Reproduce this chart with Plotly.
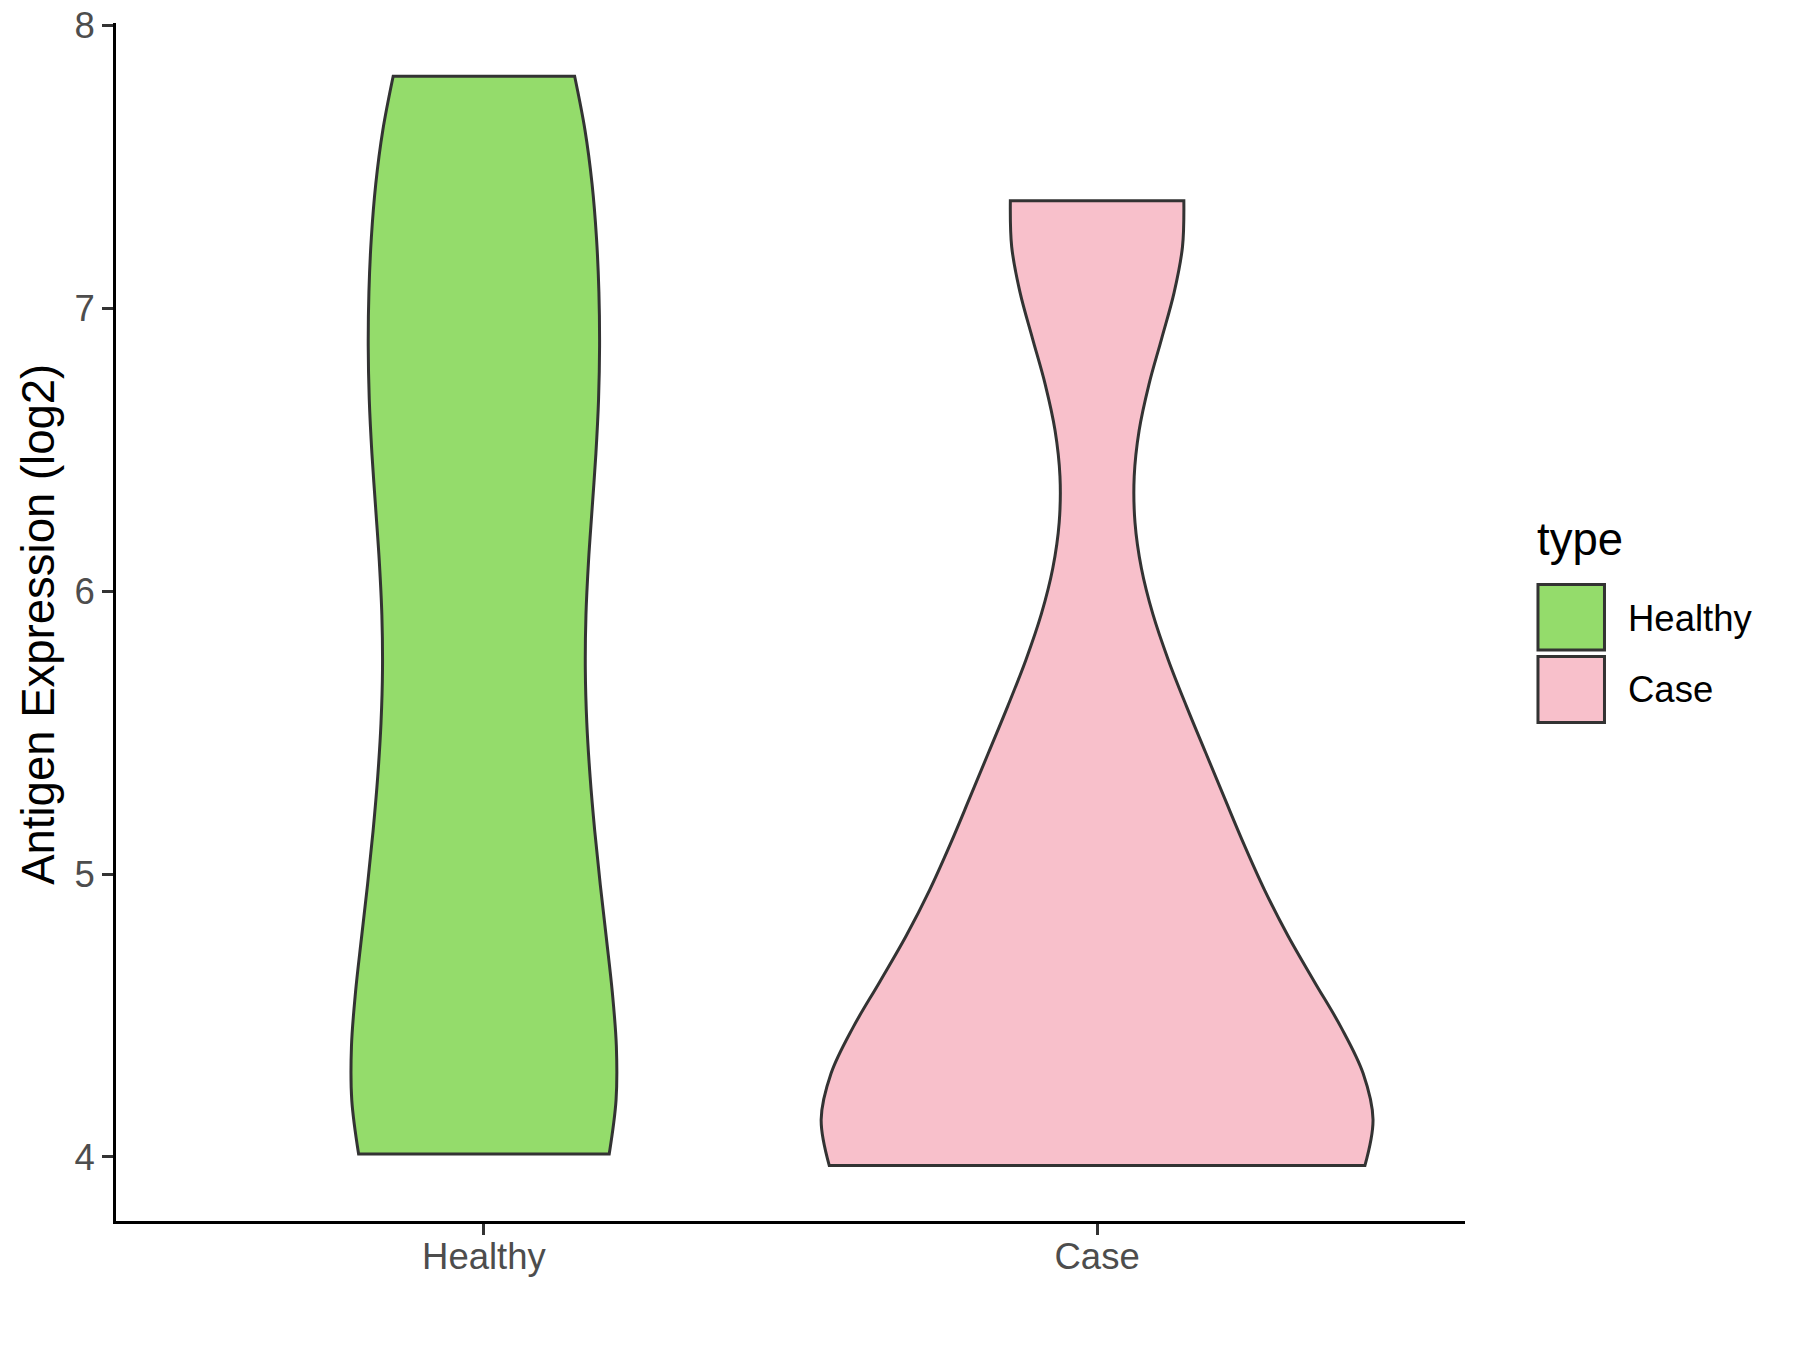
import plotly.graph_objects as go

# ---- data (estimated sample values that reproduce the violins) ----
categories = ["Healthy", "Case"]
healthy_values = [4.01, 4.01, 4.01, 4.01, 4.01, 4.01, 4.01, 4.01, 4.49, 4.93,
                  4.96, 5.02, 5.12, 5.28, 5.55, 5.84, 6.05, 6.24, 6.43, 6.60,
                  6.73, 6.84, 6.92, 7.03, 7.34, 7.79, 7.82, 7.82, 7.82, 7.82]
case_values = [3.97, 3.97, 3.97, 3.97, 3.97, 3.97, 3.97, 3.97, 3.97, 3.97,
               3.97, 3.97, 3.97, 3.97, 3.97, 3.97, 3.97, 3.97, 4.31, 4.50,
               4.61, 4.65, 4.66, 4.71, 4.79, 4.92, 5.11, 5.26, 5.35, 5.40,
               5.42, 5.55, 6.29, 7.12, 7.38, 7.38, 7.38, 7.38, 7.38, 7.38]
y_ticks = [4, 5, 6, 7, 8]
axis_title = "Antigen Expression (log2)"
legend_title = "type"

# ---- styles ----
fills = {"Healthy": "#94DC6B", "Case": "#F8C0CB"}
OUTLINE = "#333333"
TICK_GREY = "#4D4D4D"
FONT = "Liberation Sans, Arial, sans-serif"

fig = go.Figure()
fig.add_trace(go.Violin(x=["Healthy"] * len(healthy_values), y=healthy_values, name="Healthy",
                        width=0.432, bandwidth=0.60, spanmode="hard", points=False,
                        fillcolor=fills["Healthy"], line=dict(color=OUTLINE, width=3),
                        showlegend=False))
fig.add_trace(go.Violin(x=["Case"] * len(case_values), y=case_values, name="Case",
                        width=0.9, bandwidth=0.50, spanmode="hard", points=False,
                        fillcolor=fills["Case"], line=dict(color=OUTLINE, width=3),
                        showlegend=False))

# legend (ggplot-style large keys)
key_x0, key_x1 = 1.0541, 1.1034
key_rows = [(0.4766, 0.5313), (0.4161, 0.4712)]
label_y = [0.5033, 0.4435]
for (y0, y1), cat in zip(key_rows, categories):
    fig.add_shape(type="rect", xref="paper", yref="paper", x0=key_x0, x1=key_x1, y0=y0, y1=y1,
                  fillcolor=fills[cat], line=dict(color=OUTLINE, width=3))
fig.add_annotation(x=1.0519, y=0.5687, xref="paper", yref="paper", xanchor="left", yanchor="middle",
                   text=legend_title, showarrow=False, font=dict(size=45.5, color="black"))
for yy, cat in zip(label_y, categories):
    fig.add_annotation(x=1.1197, y=yy, xref="paper", yref="paper", xanchor="left", yanchor="middle",
                       text=cat, showarrow=False, font=dict(size=36.5, color="black"))

# y-axis title
fig.add_annotation(x=-0.058, y=0.4983, xref="paper", yref="paper", xanchor="center", yanchor="middle",
                   text=axis_title, textangle=-90, showarrow=False,
                   font=dict(size=45.5, color="black"))

fig.update_layout(width=1792, height=1342,
                  margin=dict(l=108, r=335, t=15, b=129, autoexpand=False),
                  plot_bgcolor="white", paper_bgcolor="white", violinmode="overlay",
                  font=dict(family=FONT))
fig.update_xaxes(type="category", categoryorder="array", categoryarray=categories, range=[-0.6, 1.6],
                 showline=True, linecolor="black", linewidth=3, ticks="outside", ticklen=11,
                 tickwidth=3, tickcolor=OUTLINE, showgrid=False, zeroline=False,
                 tickfont=dict(size=36.5, color=TICK_GREY), ticklabelstandoff=-10, automargin=False)
fig.update_yaxes(range=[3.7735, 8.0085], tickvals=y_ticks, showline=True, linecolor="black",
                 linewidth=3, ticks="outside", ticklen=11, tickwidth=3, tickcolor=OUTLINE,
                 showgrid=False, zeroline=False, tickfont=dict(size=36.5, color=TICK_GREY),
                 ticklabeloverflow="allow", automargin=False)
fig.write_html("out.html")
